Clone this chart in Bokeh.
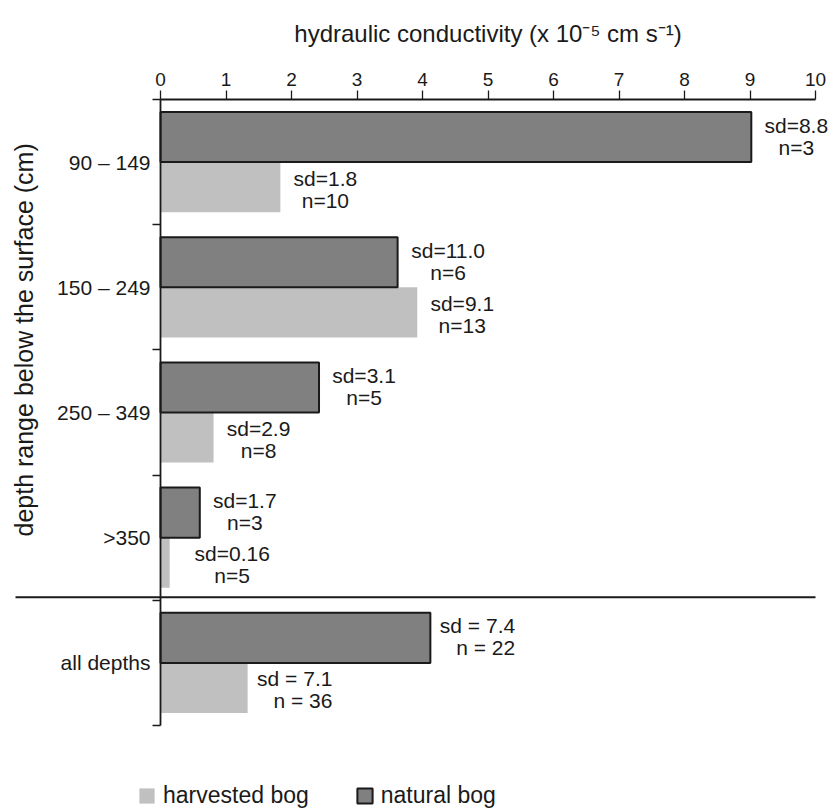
import math
from bokeh.plotting import figure
from bokeh.models import (Range1d, FixedTicker, ColumnDataSource, Label, Legend,
                          LegendItem)
from bokeh.embed import file_html
from bokeh.resources import INLINE
from bokeh.core.properties import value

# ---------------- data ----------------
categories = ["90 – 149", "150 – 249", "250 – 349", ">350", "all depths"]
natural = [9.02, 3.62, 2.42, 0.60, 4.12]
harvested = [1.83, 3.92, 0.81, 0.14, 1.33]
natural_sd = ["sd=8.8", "sd=11.0", "sd=3.1", "sd=1.7", "sd = 7.4"]
natural_n = ["n=3", "n=6", "n=5", "n=3", "n = 22"]
harvested_sd = ["sd=1.8", "sd=9.1", "sd=2.9", "sd=0.16", "sd = 7.1"]
harvested_n = ["n=10", "n=13", "n=8", "n=5", "n = 36"]
x_ticks = list(range(0, 11))
x_min, x_max = 0, 10
x_title = "hydraulic conductivity (x 10\u207b\u2075 cm s\u207b\u00b9)"
y_title = "depth range below the surface (cm)"
series_names = ["harvested bog", "natural bog"]

# ---------------- layout / style ----------------
FONT = "Liberation Sans"
INK = "#1a1a1a"
NAT_FILL = "#808080"
HARV_FILL = "#c0c0c0"

W, H = 835, 808
FRAME_L, FRAME_R, FRAME_T, FRAME_B = 10, 835, 0, 808
AXIS_X0_PX, AXIS_X10_PX = 160, 815          # where 0 and 10 sit
AXIS_TOP_PX, AXIS_BOTTOM_PX = 99, 725       # top axis line, end of left axis
PX_PER_X = (AXIS_X10_PX - AXIS_X0_PX) / (x_max - x_min)
n_cat = len(categories)
SLOT_PX = (AXIS_BOTTOM_PX - AXIS_TOP_PX) / n_cat   # one depth group
x_start = x_min - (AXIS_X0_PX - FRAME_L) / PX_PER_X
x_end = x_max + (FRAME_R - AXIS_X10_PX) / PX_PER_X
y_top = -(AXIS_TOP_PX - FRAME_T) / SLOT_PX
y_bottom = (FRAME_B - AXIS_TOP_PX) / SLOT_PX

p = figure(width=W, height=H, x_range=Range1d(x_start, x_end),
           y_range=Range1d(y_bottom, y_top), output_backend="svg",
           toolbar_location=None, x_axis_location="above",
           min_border_left=FRAME_L, min_border_right=W - FRAME_R,
           min_border_top=FRAME_T, min_border_bottom=H - FRAME_B)
p.outline_line_color = None
p.xgrid.visible = False
p.ygrid.visible = False
p.background_fill_color = "white"
p.border_fill_color = "white"

# top axis, drawn at the top of the first depth group
xa = p.xaxis[0]
xa.fixed_location = 0
xa.bounds = (x_min, x_max)
xa.ticker = FixedTicker(ticks=x_ticks, minor_ticks=[])
xa.major_tick_out = 9
xa.major_tick_in = 0
xa.minor_tick_out = 0
xa.axis_line_width = 1.8
xa.axis_line_color = INK
xa.major_tick_line_color = INK
xa.major_tick_line_width = 1.3
xa.major_label_text_font = FONT
xa.major_label_text_font_size = "19px"
xa.major_label_text_color = INK
xa.major_label_standoff = 5

# x title, centred over the axis
p.add_layout(Label(x=(x_min + x_max) / 2, y=H - 33, x_units="data",
                   y_units="screen", text=x_title, text_align="center",
                   text_baseline="middle", text_font=FONT,
                   text_font_size="24px", text_color=INK))

# left axis, drawn at x = 0 inside the frame
centers = [i + 0.5 for i in range(n_cat)]
bounds = [float(i) for i in range(n_cat + 1)]
ya = p.yaxis[0]
ya.fixed_location = x_min
ya.bounds = (0, n_cat)
ya.ticker = FixedTicker(ticks=centers, minor_ticks=bounds)
ya.major_label_overrides = {c: lab for c, lab in zip(centers, categories)}
ya.major_tick_out = 0
ya.major_tick_in = 0
ya.minor_tick_out = 8
ya.minor_tick_in = 0
ya.minor_tick_line_color = INK
ya.minor_tick_line_width = 1.3
ya.axis_line_width = 1.8
ya.axis_line_color = INK
ya.major_label_text_font = FONT
ya.major_label_text_font_size = "21px"
ya.major_label_text_color = INK
ya.major_label_standoff = 2

# bars
nat_y = [i + 0.3 for i in range(n_cat)]
harv_y = [i + 0.7 for i in range(n_cat)]
r_h = p.hbar(y=harv_y, left=0, right=harvested, height=0.4,
             fill_color=HARV_FILL, line_color=None)
r_n = p.hbar(y=nat_y, left=0, right=natural, height=0.4,
             fill_color=NAT_FILL, line_color=INK, line_width=2)

# annotations (two lines each)
CHAR_W = 11.0
GAP = 12


def label_source(vals, ys, sd, n):
    dx, align = [], []
    for i, s in enumerate(sd):
        if i == len(sd) - 1:
            dx.append(8 + len(s) * 9.6)
            align.append("right")
        else:
            # very short bars leave more room before the label
            extra = 12 if vals[i] < 0.3 else 0
            dx.append(GAP + extra + len(s) * CHAR_W / 2)
            align.append("center")
    return ColumnDataSource(dict(x=vals, y=ys, sd=sd, n=n, dx=dx, align=align))


src_n = label_source(natural, nat_y, natural_sd, natural_n)
src_h = label_source(harvested, harv_y, harvested_sd, harvested_n)

common = dict(text_font=value(FONT), text_font_size="21px", text_color=INK,
              text_baseline="middle")
p.text(x="x", y="y", text="sd", x_offset="dx", y_offset=-12, text_align="align",
       source=src_n, **common)
p.text(x="x", y="y", text="n", x_offset="dx", y_offset=10, text_align="align",
       source=src_n, **common)
p.text(x="x", y="y", text="sd", x_offset="dx", y_offset=-9, text_align="align",
       source=src_h, **common)
p.text(x="x", y="y", text="n", x_offset="dx", y_offset=13, text_align="align",
       source=src_h, **common)

# separator line between the depth groups and "all depths"
sep_y = n_cat - 1 - 3 / SLOT_PX
p.segment(x0=[x_start + 5 / PX_PER_X], x1=[x_max], y0=[sep_y], y1=[sep_y],
          line_color=INK, line_width=2)

# y title
p.add_layout(Label(x=13, x_units="screen", y=1.92, y_units="data", text=y_title,
                   angle=math.pi / 2, text_align="center", text_baseline="middle",
                   text_font=FONT, text_font_size="25px", text_color=INK))

# legend
legend = Legend(items=[LegendItem(label=series_names[0], renderers=[r_h]),
                       LegendItem(label=series_names[1], renderers=[r_n])],
                orientation="horizontal", location=(127, -1),
                label_text_font=FONT, label_text_font_size="23px",
                label_text_color=INK, glyph_width=19, glyph_height=19,
                label_standoff=7, spacing=46, padding=0, margin=0,
                border_line_color=None, background_fill_alpha=0)
p.add_layout(legend)

open("out.html", "w").write(file_html(p, INLINE))
